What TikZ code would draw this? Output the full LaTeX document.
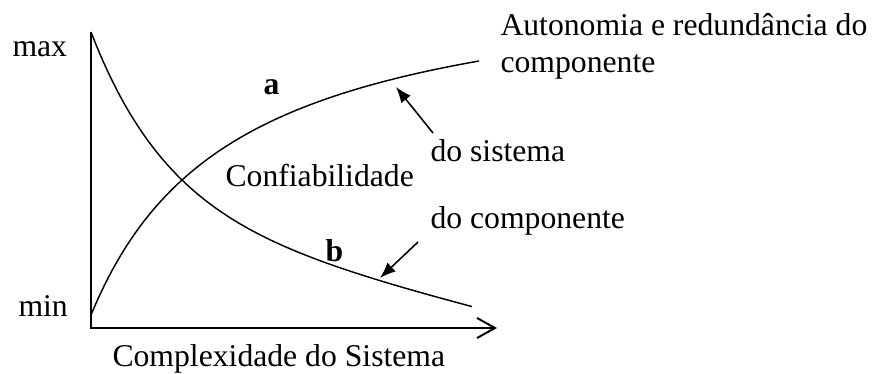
\documentclass[tikz,border=0pt]{standalone}
\usepackage{fontspec}
\setmainfont{Liberation Serif}
\usetikzlibrary{arrows.meta}

\tikzset{
  lbl/.style={anchor=base west,inner sep=0pt,font=\fontsize{12}{15}\selectfont},
  curve/.style={line width=0.55pt},
  pointer/.style={line width=0.6pt,-{Latex[length=6pt,width=4.6pt]}}
}

\begin{document}
\begin{tikzpicture}[x=0.3788pt,y=-0.3788pt]
  \useasboundingbox (0,0) rectangle (872,374);
  % axes
  \coordinate (orig) at (91,328);
  \coordinate (ytop) at (91,32);
  \coordinate (xend) at (497,328);
  \draw[line width=0.75pt,-{Straight Barb[length=6.8pt,width=7.6pt,line width=0.75pt]}] (ytop) -- (orig) -- (xend);
  \node[lbl] (max) at (12,57) {max};
  \node[lbl] (min) at (18,317) {min};
  \node[lbl] (xlabel) at (112,367) {Complexidade do Sistema};
  % curve a (sistema) and curve b (componente)
  \draw[curve] plot[domain=0:388,samples=90] ({91+\x},{315-348*(\x/(\x+143.6))});
  \draw[curve] plot[domain=0:381,samples=90] ({91+\x},{32+180.6*(1-exp(-0.013*\x))+0.25*\x});
  \node[lbl,font=\fontsize{12}{15}\selectfont\bfseries] (a) at (263,95) {a};
  \node[lbl,font=\fontsize{12}{15}\selectfont\bfseries] (b) at (325,262) {b};
  \node[lbl] (conf) at (225,187) {Confiabilidade};
  \node[lbl] (sis) at (430,162) {do sistema};
  \node[lbl] (comp) at (430,229) {do componente};
  \node[lbl] (auto) at (500,36) {Autonomia e redundância do};
  \node[lbl] (auto2) at (500,73) {componente};
  % pointers
  \coordinate (sisfrom) at (433,133);
  \coordinate (sisto) at (396,87);
  \coordinate (compfrom) at (418,242);
  \coordinate (compto) at (380,278);
  \draw[pointer] (sisfrom) -- (sisto);
  \draw[pointer] (compfrom) -- (compto);
\end{tikzpicture}
\end{document}
